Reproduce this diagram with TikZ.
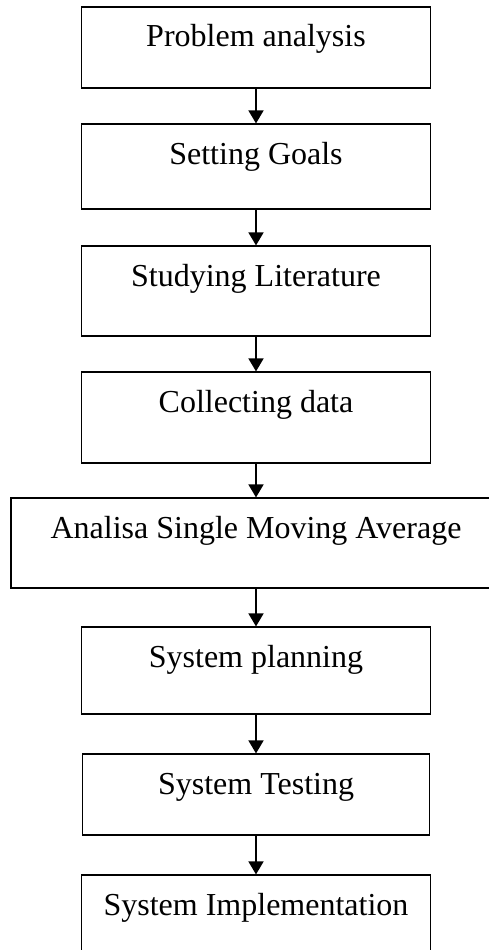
\documentclass[tikz,border=0pt]{standalone}
\usepackage{fontspec}
\setmainfont{Liberation Serif}
\usetikzlibrary{arrows.meta,positioning}

\begin{document}
\begin{tikzpicture}[
        x=1pt, y=-1pt,
        stage/.style={draw, line width=1.2pt, inner sep=0pt, text height=40pt,
          minimum width=349pt, font=\fontsize{32}{35}\selectfont},
        flow/.style={line width=1.8pt},
        >={Triangle[width=15pt,length=13pt]}
      ]
        \useasboundingbox (0,0) rectangle (489,950);
        \node[stage, text depth=41pt, anchor=base] (problem) at (256,47) {Problem analysis};
        \node[stage, text depth=45pt, anchor=base] (goals) at (256,164) {Setting Goals};
        \node[stage, text depth=50pt, anchor=base] (literature) at (256,286) {Studying Literature};
        \node[stage, text depth=51pt, anchor=base] (data) at (256,412) {Collecting data};
        \node[stage, text depth=50pt, anchor=base, minimum width=490pt] (sma) at (256,538) {Analisa Single Moving Average};
        \node[stage, text depth=47pt, anchor=base] (planning) at (256,667) {System planning};
        \node[stage, text depth=41pt, anchor=base, minimum width=347pt] (testing) at (256,794) {System Testing};
        \node[stage, text depth=50pt, anchor=base] (implementation) at (256,915) {System Implementation};
        \draw[->,flow] (problem) -- (goals);
        \draw[->,flow] (goals) -- (literature);
        \draw[->,flow] (literature) -- (data);
        \draw[->,flow] (data) -- (sma);
        \draw[->,flow] (sma) -- (planning);
        \draw[->,flow] (planning) -- (testing);
        \draw[->,flow] (testing) -- (implementation);
      \end{tikzpicture}
\end{document}
